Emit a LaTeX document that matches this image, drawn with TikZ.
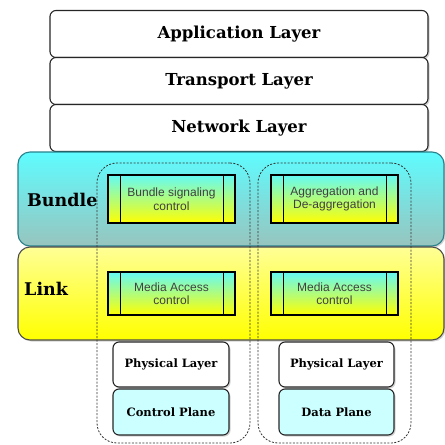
\documentclass[tikz,border=0pt]{standalone}
\usepackage{fontspec}
\setmainfont{DejaVu Serif}
\newfontfamily\procfont{Liberation Sans}
\usetikzlibrary{shadows}

\definecolor{bundletop}{RGB}{95,252,255}
\definecolor{bundlebot}{RGB}{152,196,190}
\definecolor{bundleline}{RGB}{40,130,140}
\definecolor{linktop}{RGB}{255,255,150}
\definecolor{linkbot}{RGB}{255,255,0}
\definecolor{proctop}{RGB}{100,250,245}
\definecolor{procbot}{RGB}{255,255,0}
\definecolor{planefill}{RGB}{204,255,255}

\begin{document}
\begin{tikzpicture}[x=1pt,y=-1pt]

    \tikzset{
      shadowed/.style={drop shadow={shadow xshift=1.5pt,shadow yshift=-1.5pt,opacity=0.35}},
      layer/.style={
        draw=black!85,
        line width=1.1pt,
        rounded corners=6pt,
        fill=white,
        shadowed,
        inner sep=0pt,
        minimum width=378pt,
        minimum height=47pt,
        font=\bfseries\fontsize{16.5}{18}\selectfont,
      },
      band/.style={
        line width=1.1pt,
        rounded corners=12pt,
        inner sep=0pt,
        minimum width=426pt,
        shadowed,
      },
      plane/.style={
        draw=black!80,
        dash pattern=on 2pt off 1.5pt,
        line width=0.8pt,
        rounded corners=20pt,
        minimum width=153pt,
        minimum height=280pt,
      },
      proc/.style={
        draw=black,
        line width=1.2pt,
        top color=proctop,
        bottom color=procbot,
        inner sep=0pt,
        minimum width=127pt,
        text=black!75,
        align=center,
        font=\procfont\fontsize{12}{13.5}\selectfont,
        append after command={
          [line width=1.2pt]
          ([xshift=12.5pt]\tikzlastnode.north west) edge ([xshift=12.5pt]\tikzlastnode.south west)
          ([xshift=-12.5pt]\tikzlastnode.north east) edge ([xshift=-12.5pt]\tikzlastnode.south east)
        },
      },
      phys/.style={
        draw=black!85,
        line width=1.1pt,
        rounded corners=6pt,
        shadowed,
        inner sep=0pt,
        minimum height=45pt,
        font=\bfseries\fontsize{11.5}{13}\selectfont,
      },
      sidelabel/.style={anchor=west,inner sep=0pt,font=\bfseries\fontsize{17.5}{20}\selectfont},
    }
    \useasboundingbox (0,0) rectangle (445,445);

    % upper layers
    \node[layer] (app) at (239,34) {Application Layer};
    \node[layer] (trans) at (239,81) {Transport Layer};
    \node[layer] (net) at (239,128) {Network Layer};

    % bundle and link bands
    \node[band,draw=bundleline,top color=bundletop,bottom color=bundlebot,minimum height=94pt] (bundle) at (231,199) {};
    \node[band,draw=black!70,top color=linktop,bottom color=linkbot,minimum height=93pt] (link) at (231,293.5) {};
    \node[sidelabel] (bundlelbl) at (27,200) {Bundle};
    \node[sidelabel] (linklbl) at (24,289) {Link};

    % control and data planes
    \node[plane] (ctrl) at (173.5,303) {};
    \node[plane] (data) at (334.5,303) {};

    \node[proc,minimum height=48pt] (sig) at (171.5,199) {Bundle signaling\\control};
    \node[proc,minimum height=48pt] (agg) at (334.5,199) {Aggregation and\\De-aggregation};
    \node[proc,minimum height=43pt] (macl) at (171.5,293.5) {Media Access\\control};
    \node[proc,minimum height=43pt] (macr) at (334.5,293.5) {Media Access\\control};

    \node[phys,fill=white,minimum width=116pt] (physl) at (171,364.5) {Physical Layer};
    \node[phys,fill=white,minimum width=115pt] (physr) at (336.5,364.5) {Physical Layer};
    \node[phys,fill=planefill,minimum width=116pt,minimum height=46pt] (ctrlpl) at (171,412) {Control Plane};
    \node[phys,fill=planefill,minimum width=115pt,minimum height=46pt] (datapl) at (336.5,412) {Data Plane};

\end{tikzpicture}
\end{document}
